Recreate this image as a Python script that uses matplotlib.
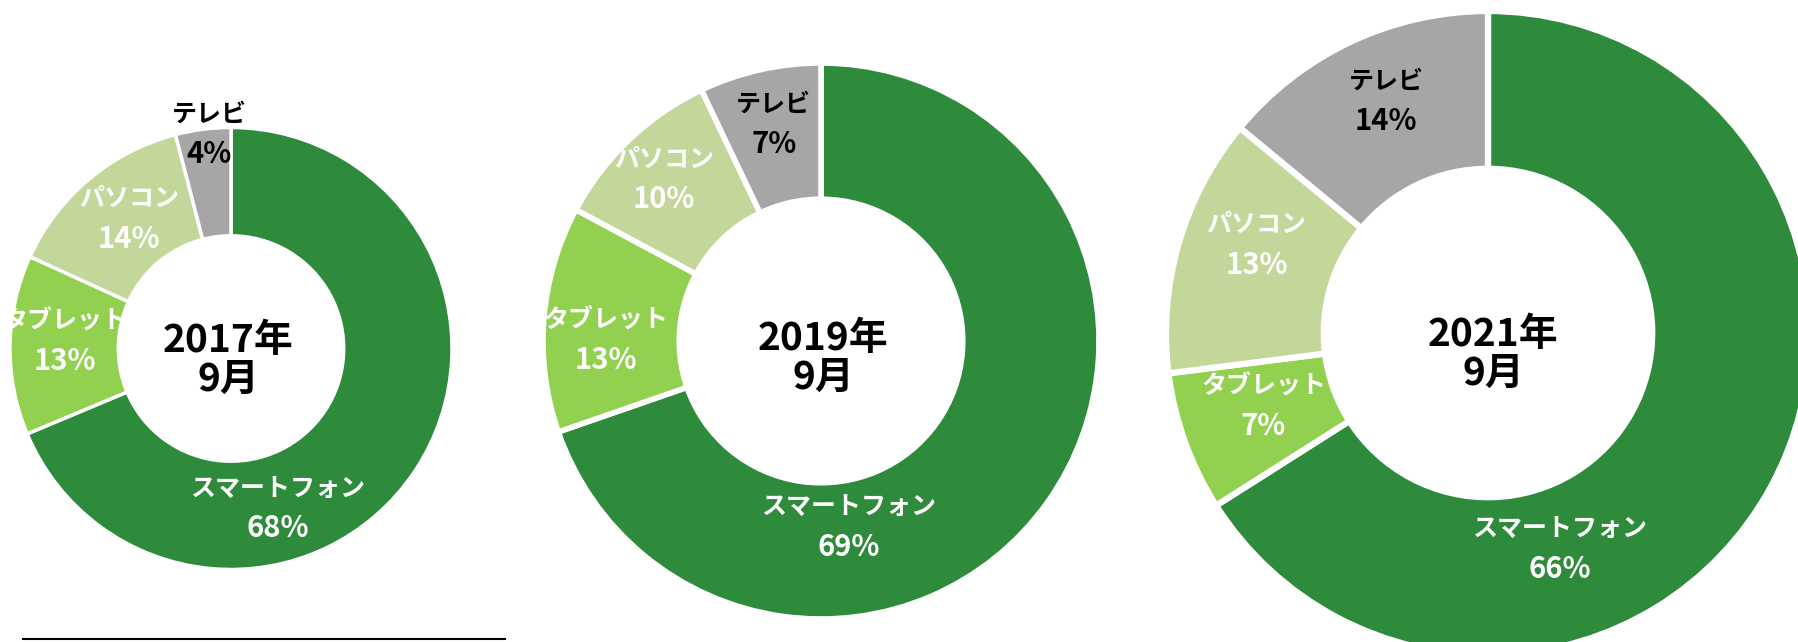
#!/usr/bin/env python
"""
Three donut charts: device share in 2017, 2019 and 2021 (September)
"""
import matplotlib.pyplot as plt
from matplotlib.lines import Line2D

plt.rcParams['font.family'] = ['Noto Sans CJK JP', 'DejaVu Sans']

# data
CATEGORIES = ["スマートフォン", "タブレット", "パソコン", "テレビ"]
PERIODS = ["2017年\n9月", "2019年\n9月", "2021年\n9月"]
SHARE_2017 = [68, 13, 14, 4]
SHARE_2019 = [69, 13, 10, 7]
SHARE_2021 = [66, 7, 13, 14]

COLORS = ["#2e8b3c", "#92d050", "#c4d79b", "#a6a6a6"]
TEXT_COLORS = ["white", "white", "white", "black"]

# figure size in pixels
W, H = 1798, 642

# donut centre (px), outer radius (px), edge width (pt) per chart
LAYOUT = [
    (231, 348.5, 221, 2.5),
    (821, 341, 278, 4.0),
    (1488, 333, 322, 4.5),
]

# label positions in data units (radius = 1), order as CATEGORIES
LABEL_POS = [
    [(0.21, -0.725), (-0.75, 0.03), (-0.46, 0.584), (-0.10, 0.966)],
    [(0.10, -0.67), (-0.775, 0.0), (-0.565, 0.58), (-0.17, 0.779)],
    [(0.223, -0.672), (-0.697, -0.228), (-0.719, 0.272), (-0.316, 0.719)],
]
CENTER_POS = [(-0.014, -0.05), (0.007, -0.06), (0.016, -0.064)]

fig = plt.figure(figsize=(W / 100, H / 100), dpi=100)

for i, values in enumerate([SHARE_2017, SHARE_2019, SHARE_2021]):
    cx, cy, r, lw = LAYOUT[i]
    ax = fig.add_axes([(cx - r) / W, 1 - (cy + r) / H, 2 * r / W, 2 * r / H])
    ax.pie(values, colors=COLORS, startangle=90, counterclock=False,
           radius=1.0,
           wedgeprops=dict(width=0.49, edgecolor="white", linewidth=lw))
    ax.set_xlim(-1, 1)
    ax.set_ylim(-1, 1)
    ax.axis("off")

    # data labels: category on top, percentage below
    for j, cat in enumerate(CATEGORIES):
        x, y = LABEL_POS[i][j]
        ax.annotate(cat, xy=(x, y), xytext=(0, 14.5),
                    textcoords="offset points", ha="center", va="center",
                    fontsize=18, fontweight="bold", color=TEXT_COLORS[j])
        ax.annotate("{}%".format(values[j]), xy=(x, y), xytext=(0, -14),
                    textcoords="offset points", ha="center", va="center",
                    fontsize=21, fontweight="bold", color=TEXT_COLORS[j])

    # period in the hole
    x, y = CENTER_POS[i]
    ax.text(x, y, PERIODS[i], ha="center", va="center", fontsize=28,
            fontweight="bold", color="black", linespacing=1.0)

# thin rule under the first chart
fig.add_artist(Line2D([23 / W, 505 / W], [1 - 639 / H, 1 - 639 / H],
                      color="black", linewidth=1.5))

fig.savefig("out.png", dpi=100)
